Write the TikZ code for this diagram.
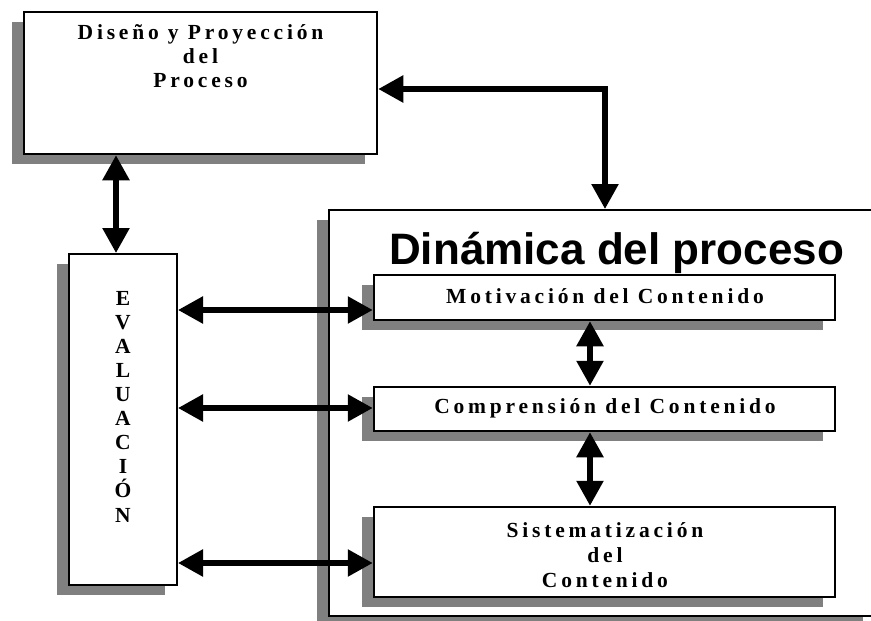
\documentclass[tikz,border=0pt]{standalone}
\usepackage{fontspec}
\setmainfont{Liberation Serif}
\newfontfamily\boxfont[LetterSpace=17.7]{Liberation Serif}
\newfontfamily\titlefont{Liberation Sans}
\usetikzlibrary{arrows.meta,shadows}
\definecolor{shgray}{RGB}{128,128,128}
\begin{document}
\begin{tikzpicture}[x=1pt,y=-1pt,
  box/.style={draw=black, line width=2.5pt, fill=white, inner sep=0pt,
    drop shadow={shadow xshift=-12pt,shadow yshift=-10pt,fill=shgray,opacity=1}},
  txt/.style={font={\boxfont\bfseries\fontsize{21.5}{24}\selectfont}, inner sep=0pt, align=center, anchor=base},
  biarr/.style={line width=5.5pt, line join=miter, {Triangle[length=25pt,width=26pt]}-{Triangle[length=25pt,width=26pt]}}
]
\useasboundingbox (0,0) rectangle (871,621);
\clip (0,0) rectangle (871,621);

% boxes
\node[box, minimum width=353pt, minimum height=142pt] (dis) at (200.5,83) {};
\node[box, line width=2pt, minimum width=108pt, minimum height=331pt] (eva) at (123,419.5) {};
\node[box, line width=2pt, minimum width=546pt, minimum height=406pt] (dyn) at (602,413) {};
\node[box, minimum width=461pt, minimum height=45pt] (mot) at (604.5,297.5) {};
\node[box, minimum width=461pt, minimum height=44pt] (com) at (604.5,409) {};
\node[box, minimum width=461pt, minimum height=90pt] (sis) at (604.5,552) {};

% texts (multi-line nodes: base = last line's baseline)
\node[txt] (tdis) at (200.5,87) {Diseño y Proyección\\del\\Proceso};
\node[font={\bfseries\fontsize{21.5}{24.1}\selectfont}, align=center, inner sep=0pt, anchor=base] (teva) at (123,522) {E\\V\\A\\L\\U\\A\\C\\I\\Ó\\N};
\node[font={\titlefont\bfseries\fontsize{44}{48}\selectfont}, inner sep=0pt, anchor=base west] (title) at (389,264) {Dinámica del proceso};
\node[txt] (tmot) at (605,303) {Motivación del Contenido};
\node[txt] (tcom) at (605,413) {Comprensión del Contenido};
\node[txt, font={\boxfont\bfseries\fontsize{21.5}{25}\selectfont}] (tsis) at (605,587) {Sistematización\\del\\Contenido};

% connectors
\coordinate (xa) at (116,0);
\coordinate (xb) at (605,89);
\coordinate (xc) at (590,0);
\draw[biarr] (dis.south -| xa) -- (eva.north -| xa);
\draw[biarr] (dis.east |- xb) -- (xb) -- (dyn.north -| xb);
\draw[biarr] (eva.east |- 0,310) -- (mot.west |- 0,310);
\draw[biarr] (eva.east |- 0,408) -- (com.west |- 0,408);
\draw[biarr] (eva.east |- 0,563) -- (sis.west |- 0,563);
\draw[biarr] (mot.south -| xc) -- (com.north -| xc);
\draw[biarr] (com.south -| xc) -- (sis.north -| xc);
\end{tikzpicture}
\end{document}
